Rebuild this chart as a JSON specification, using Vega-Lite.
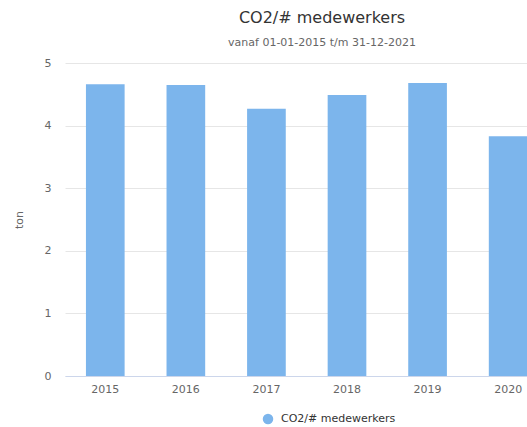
{
  "$schema": "https://vega.github.io/schema/vega-lite/v6.json",
  "autosize": "none",
  "width": 564,
  "height": 313,
  "padding": {"left": 65, "top": 63, "right": 0, "bottom": 51},
  "background": "white",
  "title": {
    "text": "CO2/# medewerkers",
    "subtitle": "vanaf 01-01-2015 t/m 31-12-2021",
    "anchor": "middle",
    "dx": -25,
    "offset": 9,
    "font": "DejaVu Sans",
    "fontSize": 16,
    "fontWeight": "normal",
    "color": "#333333",
    "subtitleFont": "DejaVu Sans",
    "subtitleFontSize": 11,
    "subtitleColor": "#666666",
    "subtitlePadding": 11
  },
  "data": {
    "values": [
      {"jaar": "2015", "waarde": 4.66},
      {"jaar": "2016", "waarde": 4.65},
      {"jaar": "2017", "waarde": 4.27},
      {"jaar": "2018", "waarde": 4.49},
      {"jaar": "2019", "waarde": 4.68},
      {"jaar": "2020", "waarde": 3.83}
    ]
  },
  "mark": {"type": "bar"},
  "encoding": {
    "x": {
      "field": "jaar",
      "type": "nominal",
      "scale": {
        "domain": ["2015", "2016", "2017", "2018", "2019", "2020", "2021"],
        "paddingInner": 0.52,
        "paddingOuter": 0.26
      },
      "axis": {
        "title": null,
        "labelAngle": 0,
        "labelFont": "DejaVu Sans",
        "labelFontSize": 11,
        "labelColor": "#666666",
        "labelPadding": 7,
        "ticks": false,
        "domainColor": "#ccd6eb",
        "grid": false
      }
    },
    "y": {
      "field": "waarde",
      "type": "quantitative",
      "scale": {"domain": [0, 5], "nice": false},
      "axis": {
        "title": "ton",
        "titleFont": "DejaVu Sans",
        "titleFontSize": 11,
        "titleFontWeight": "normal",
        "titleColor": "#666666",
        "titlePadding": 20,
        "values": [0, 1, 2, 3, 4, 5],
        "labelFont": "DejaVu Sans",
        "labelFontSize": 11,
        "labelColor": "#666666",
        "labelPadding": 14,
        "ticks": false,
        "domain": false,
        "gridColor": "#e6e6e6"
      }
    },
    "color": {
      "datum": "CO2/# medewerkers",
      "type": "nominal",
      "scale": {"range": ["#7cb5ec"]},
      "legend": {
        "title": null,
        "orient": "none",
        "legendX": 197,
        "legendY": 350,
        "symbolType": "circle",
        "symbolSize": 110,
        "symbolOpacity": 1,
        "labelFont": "DejaVu Sans",
        "labelFontSize": 11,
        "labelColor": "#333333",
        "labelOffset": 7
      }
    }
  },
  "config": {"view": {"stroke": null}}
}
